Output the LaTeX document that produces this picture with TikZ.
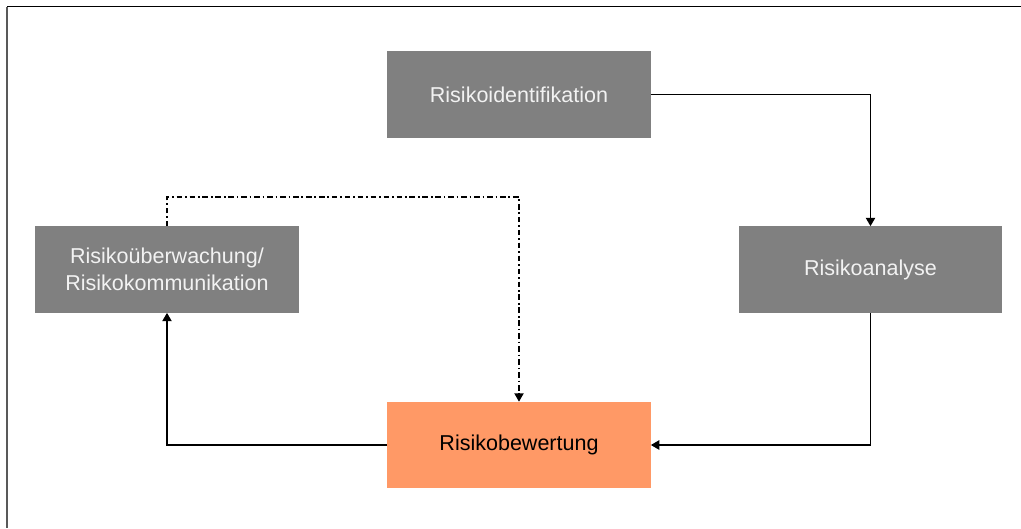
\documentclass[tikz,border=0pt]{standalone}
\usepackage{fontspec}
\setmainfont{Liberation Sans}
\usetikzlibrary{arrows.meta}
\definecolor{boxgray}{HTML}{808080}
\definecolor{boxorange}{HTML}{FF9966}
\begin{document}
\begin{tikzpicture}[x=0.025cm,y=-0.025cm,
    stepbox/.style={fill=boxgray,text=white!95!black,minimum width=6.575cm,minimum height=2.15cm,align=center,inner sep=0pt,font=\fontsize{15.3}{19.2}\selectfont},
    flow/.style={line width=1.4pt,-{Triangle[length=6pt,width=6.5pt]}}]
        \useasboundingbox (0,0) rectangle (1021,528);
        \draw[line width=1.4pt] (7,6.5) -- (1021,6.5);
        \draw[line width=1.4pt,color=black!65] (7,6.5) -- (7,528);
      \node[stepbox] (ident) at (519,94.5) {Risikoidentifikation};
      \node[stepbox] (analyse) at (870.5,269.5) {Risikoanalyse};
      \node[stepbox] (ueber) at (167,269.5) {Risikoüberwachung/\\Risikokommunikation};
      \node[stepbox,fill=boxorange,text=black] (bewert) at (519,445) {Risikobewertung};
	\coordinate (loop) at (519,197);
        \draw[flow] (ident.east) -| (analyse.north);
        \draw[flow] (analyse.south) |- (bewert.east);
        \draw[flow] (bewert.west) -| (ueber.south);
        \draw[flow,line width=1.2pt,dash pattern=on 4pt off 2pt on 1.2pt off 2pt] (ueber.north) |- (loop) -- (bewert.north);
      % \node at (519,20) {};
             \end{tikzpicture}
\end{document}
